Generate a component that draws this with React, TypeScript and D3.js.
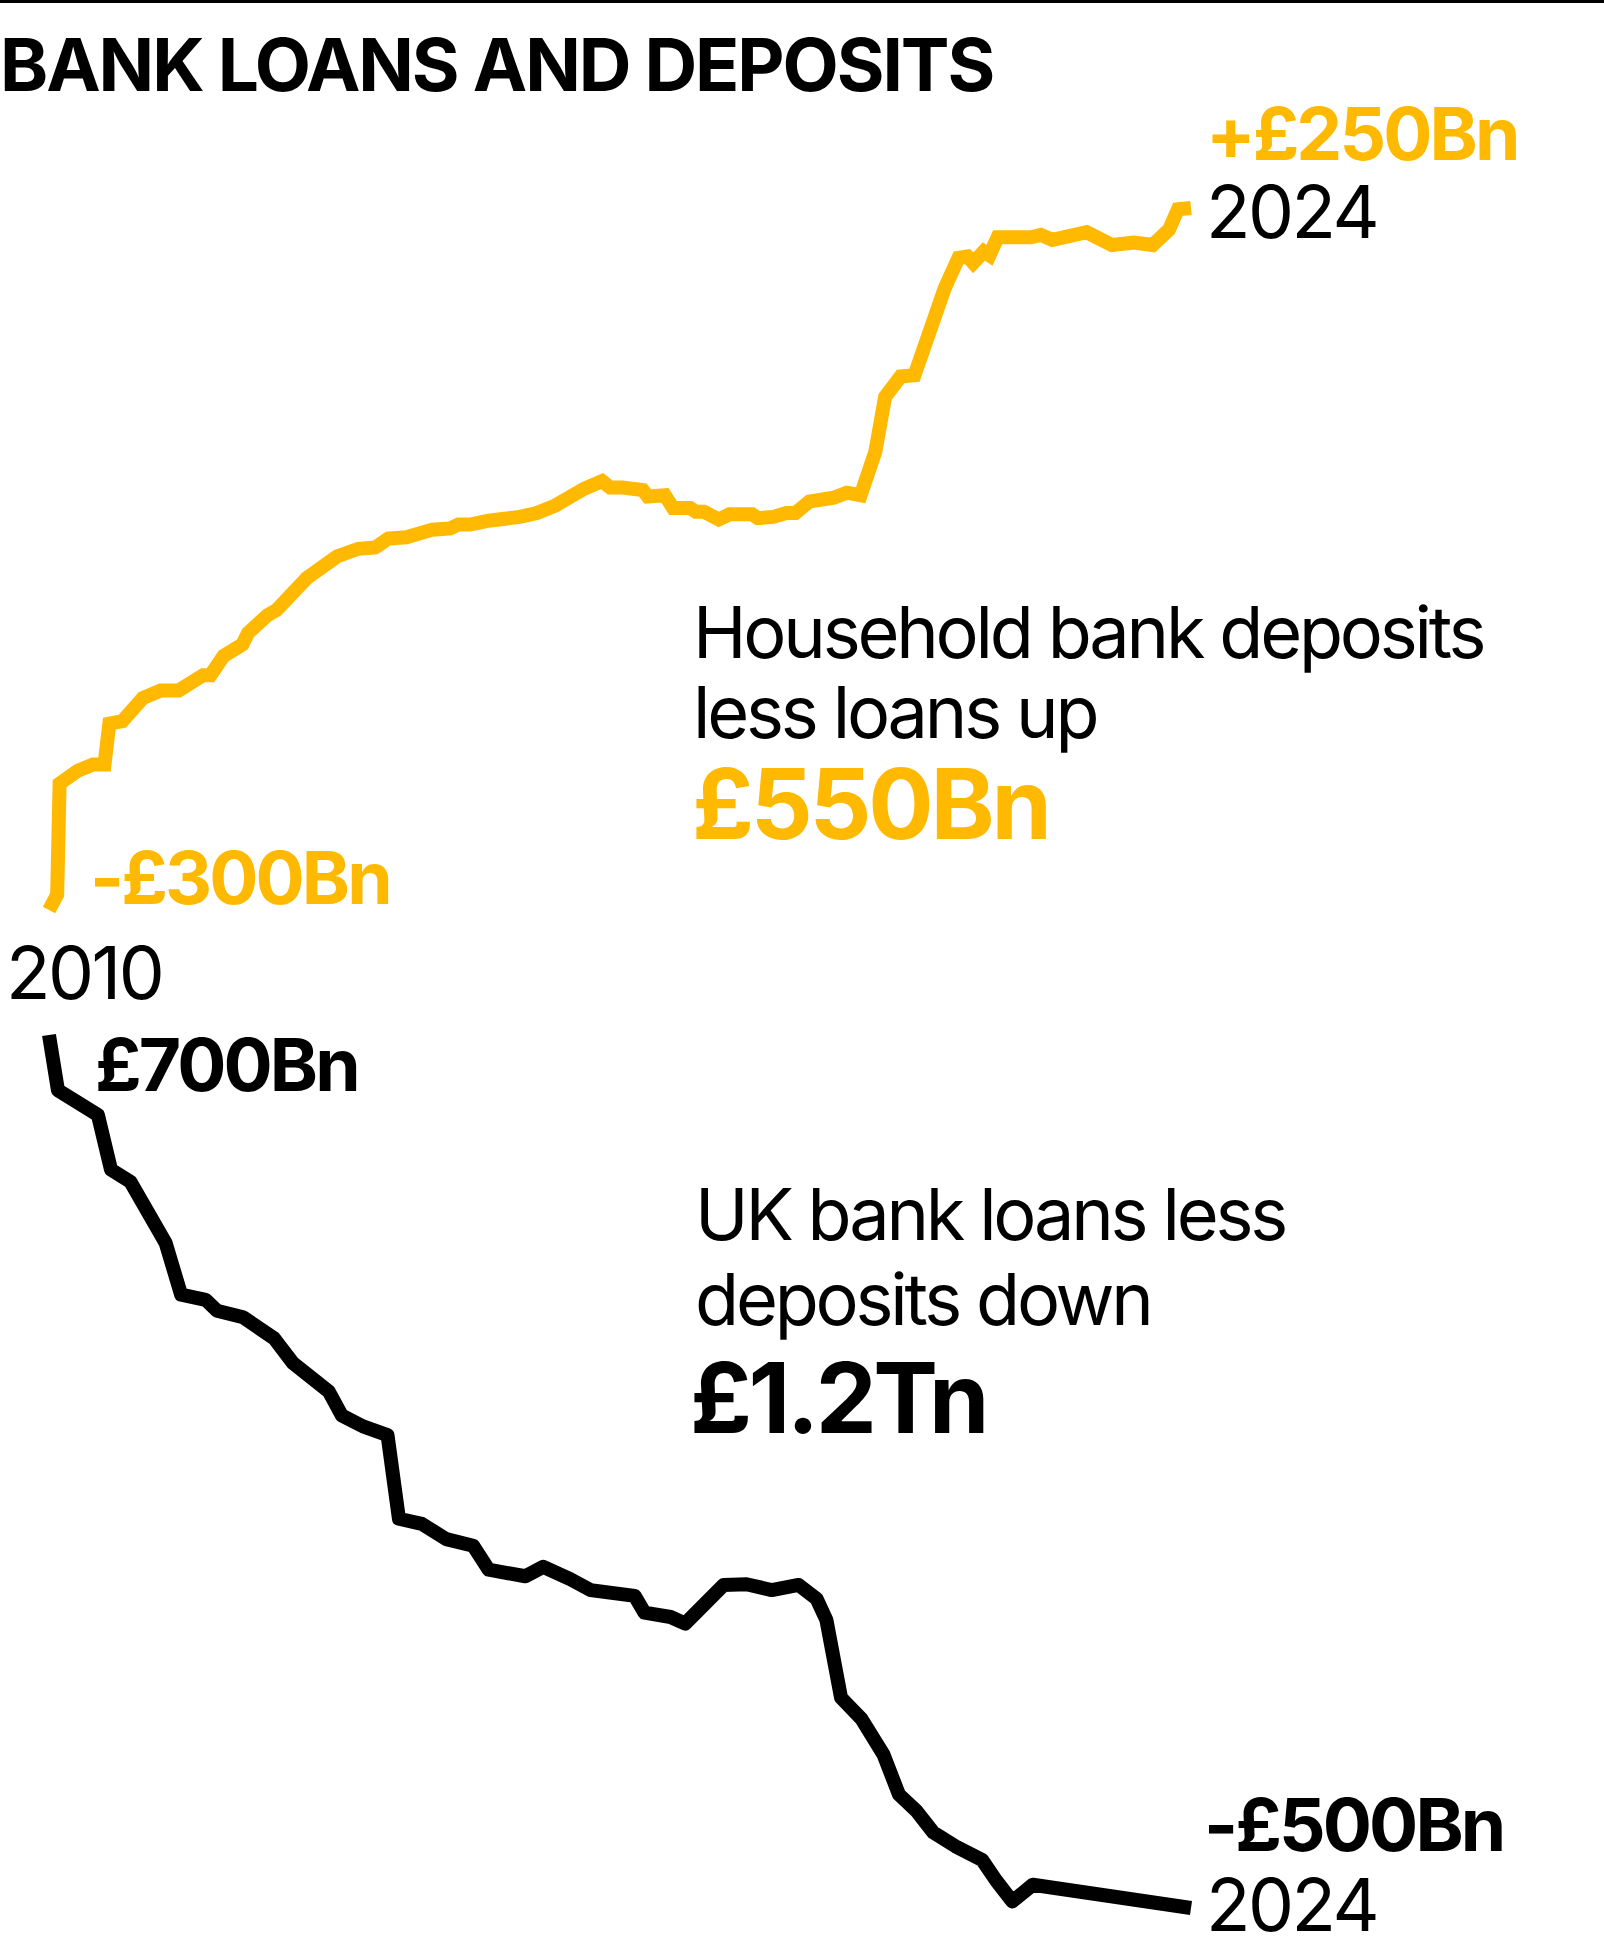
import React, { useEffect, useRef } from 'react';
import * as d3 from 'd3';

// Household bank deposits less loans (£Bn)
const depositYears = [
  2010.0, 2010.1, 2010.13, 2010.35, 2010.54, 2010.68, 2010.74, 2010.9, 2011.15, 2011.37,
  2011.59, 2011.89, 2011.98, 2012.14, 2012.37, 2012.44, 2012.68, 2012.79, 2013.16, 2013.53,
  2013.79, 2014.0, 2014.16, 2014.38, 2014.7, 2014.92, 2015.02, 2015.16, 2015.39, 2015.77,
  2015.98, 2016.21, 2016.56, 2016.78, 2016.88, 2017.03, 2017.28, 2017.34, 2017.55, 2017.65,
  2017.86, 2017.93, 2018.03, 2018.21, 2018.34, 2018.62, 2018.69, 2018.88, 2019.04, 2019.15,
  2019.32, 2019.62, 2019.78, 2019.95, 2020.13, 2020.25, 2020.44, 2020.61, 2020.98, 2021.15,
  2021.26, 2021.33, 2021.46, 2021.53, 2021.63, 2022.04, 2022.16, 2022.3, 2022.72, 2023.03,
  2023.3, 2023.53, 2023.73, 2023.84, 2024.0,
];
const depositValues = [
  -300, -288, -201, -191, -186, -186, -154, -152, -134, -128,
  -128, -116, -116, -101, -92, -83, -69, -65, -40, -23,
  -17, -16, -9, -8, -2, -1, 2, 2, 5, 8,
  11, 17, 30, 36, 31, 31, 29, 24, 25, 15,
  15, 12, 12, 6, 10, 10, 7, 8, 11, 11,
  20, 23, 27, 25, 59, 102, 118, 119, 187, 211,
  212, 207, 216, 213, 227, 227, 229, 225, 231, 221,
  223, 221, 233, 249, 250,
];

// UK bank loans less deposits (£Bn)
const loanYears = [
  2010.0, 2010.11, 2010.6, 2010.76, 2011.0, 2011.43, 2011.62, 2011.92, 2012.06, 2012.38,
  2012.76, 2012.99, 2013.43, 2013.59, 2013.85, 2014.15, 2014.29, 2014.57, 2014.87, 2015.2,
  2015.39, 2015.84, 2016.06, 2016.39, 2016.64, 2017.18, 2017.3, 2017.62, 2017.8, 2018.27,
  2018.55, 2018.86, 2019.19, 2019.41, 2019.53, 2019.71, 2019.96, 2020.23, 2020.42, 2020.63,
  2020.84, 2021.11, 2021.44, 2021.61, 2021.81, 2022.06, 2024.0,
];
const loanValues = [
  700, 624, 590, 515, 498, 414, 343, 336, 321, 312,
  283, 249, 210, 177, 162, 150, 35, 28, 7, -2,
  -35, -44, -31, -48, -63, -71, -94, -100, -109, -56,
  -55, -63, -56, -75, -104, -211, -240, -289, -344, -366,
  -396, -415, -434, -462, -491, -468, -500,
];

const title = 'BANK LOANS AND DEPOSITS';
const depositNote = ['Household bank deposits', 'less loans up'];
const depositChange = '£550Bn';
const loanNote = ['UK bank loans less', 'deposits down'];
const loanChange = '£1.2Tn';

const YELLOW = '#FFB900';
const FONT = "Inter, 'Noto Sans', sans-serif";

const App = () => {
  const ref = useRef<SVGSVGElement>(null);

  useEffect(() => {
    const width = 1604;
    const height = 1955;
    const svg = d3.select(ref.current);
    svg.selectAll('*').remove();
    svg.attr('width', width).attr('height', height);

    const x = d3.scaleLinear().domain([2010, 2024]).range([49, 1191]);
    const yDep = d3.scaleLinear().domain([-300, 250]).range([910, 208]);
    const yLoan = d3.scaleLinear().domain([-500, 700]).range([1908, 1035]);

    // top rule
    svg.append('line')
      .attr('x1', 0).attr('x2', width)
      .attr('y1', 1.5).attr('y2', 1.5)
      .attr('stroke', '#000').attr('stroke-width', 3);

    const text = (tx: number, ty: number, str: string, size: number, weight: number, fill: string, spacing: number) =>
      svg.append('text')
        .attr('x', tx).attr('y', ty)
        .attr('font-family', FONT)
        .attr('font-size', size)
        .attr('font-weight', weight)
        .attr('letter-spacing', spacing)
        .attr('fill', fill)
        .text(str);

    text(0, 91, title, 73, 700, '#000', -2.1);

    const depData = depositYears.map((d, i) => ({ t: d, v: depositValues[i] }));
    const loanData = loanYears.map((d, i) => ({ t: d, v: loanValues[i] }));

    const depLine = d3.line<{ t: number; v: number }>().x(d => x(d.t)).y(d => yDep(d.v));
    const loanLine = d3.line<{ t: number; v: number }>().x(d => x(d.t)).y(d => yLoan(d.v));

    svg.append('path')
      .datum(depData)
      .attr('d', depLine)
      .attr('fill', 'none')
      .attr('stroke', YELLOW)
      .attr('stroke-width', 14)
      .attr('stroke-linejoin', 'miter')
      .attr('stroke-linecap', 'butt');

    svg.append('path')
      .datum(loanData)
      .attr('d', loanLine)
      .attr('fill', 'none')
      .attr('stroke', '#000')
      .attr('stroke-width', 14)
      .attr('stroke-linejoin', 'round')
      .attr('stroke-linecap', 'butt');

    // end labels
    const fmt = (v: number, sign: boolean) =>
      (v < 0 ? '-' : sign ? '+' : '') + '£' + Math.abs(v) + 'Bn';
    const d0 = depositValues[0];
    const d1 = depositValues[depositValues.length - 1];
    const l0 = loanValues[0];
    const l1 = loanValues[loanValues.length - 1];

    text(1206, 160, fmt(d1, true), 73, 700, YELLOW, -2.9);
    text(1206, 238, String(Math.round(depositYears[depositYears.length - 1])), 73, 400, '#000', -2.5);
    text(90, 904, fmt(d0, true), 73, 700, YELLOW, -2.9);
    text(6, 999, String(depositYears[0]), 73, 400, '#000', -2.5);
    text(95, 1091, fmt(l0, false), 73, 700, '#000', -2.9);
    text(1204, 1851, fmt(l1, true), 73, 700, '#000', -2.9);
    text(1206, 1931, String(Math.round(loanYears[loanYears.length - 1])), 73, 400, '#000', -2.5);

    // annotations
    depositNote.forEach((s, i) => text(693, 658 + i * 80, s, 72, 400, '#000', -3.2));
    text(692, 839, depositChange, 97, 700, YELLOW, -3.2);
    loanNote.forEach((s, i) => text(695, 1240 + i * 85, s, 72, 400, '#000', -3.2));
    text(690, 1433, loanChange, 97, 700, '#000', -3.5);
  }, []);

  return (
    <div style={{ position: 'absolute', left: 0, top: 0, background: '#fff' }}>
      <svg ref={ref} />
    </div>
  );
};

export default App;
